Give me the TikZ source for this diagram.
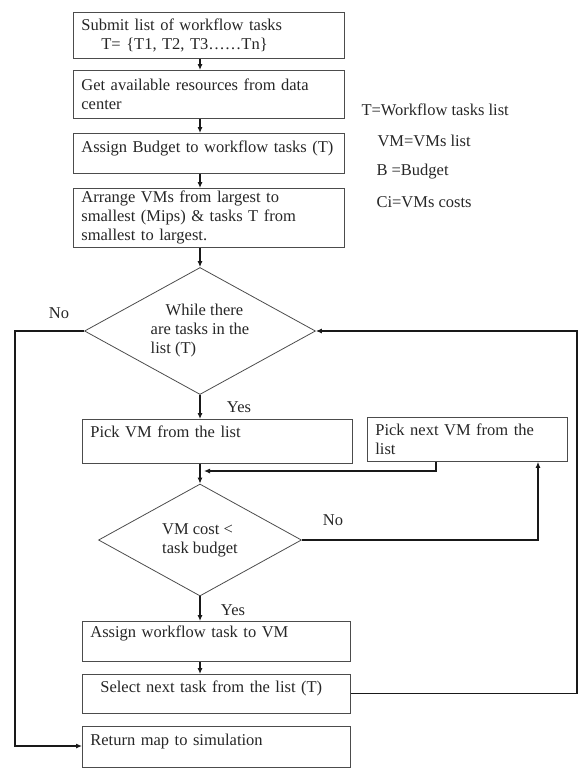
\documentclass[tikz,border=0pt]{standalone}
\usepackage{fontspec}
\setmainfont{Liberation Serif}
\usetikzlibrary{arrows.meta,calc,shapes.geometric}
\tikzset{
  procbox/.style 2 args={draw=black!70, line width=0.8pt, anchor=north west, inner xsep=8pt, inner ysep=0pt, align=left, text width=#1pt, minimum height=#2pt},
  liftup/.style={text depth=#1pt},
  decision/.style={draw=black!70, line width=0.8pt, diamond, inner sep=0pt, align=left},
  flow/.style={line width=1.1pt, draw=black!90, -{Latex[length=6pt,width=5pt]}}
}

\begin{document}
\begin{tikzpicture}[x=1pt, y=-1pt, font=\fontsize{16.5}{19}\selectfont, text=black!85]
			%%%%% START %%%%%
			\useasboundingbox (0,0) rectangle (581,769);
			
			\node[procbox={255}{46}] (submit) at (73,12) {Submit list of workflow tasks\\\hspace*{20pt}T= \{T1, T2, T3\ldots\ldots Tn\}};
			\node[procbox={255}{48}] (resources) at (73,70) {Get available resources from data\\center};
			\node[procbox={255}{40}, liftup=14] (budget) at (73,133) {Assign Budget to workflow tasks (T)};
			\node[procbox={255}{59}] (arrange) at (73,188) {Arrange VMs from largest to\\smallest (Mips) \& tasks T from\\smallest to largest.};
			
			\node[decision, aspect=1.82, minimum width=231pt, minimum height=127pt] (whiletasks) at (200,331) {\hspace*{15pt}While there\\are tasks in the\\list (T)};
			
			\node[procbox={254}{44}, liftup=20] (pickvm) at (82,419) {Pick VM from the list};
			\node[procbox={184}{44}] (nextvm) at (367,417) {Pick next VM from the\\list};
			
			\node[decision, aspect=1.81, minimum width=203pt, minimum height=112pt] (vmcost) at (200,540) {VM cost <\\task budget};
			
			\node[procbox={252}{40}, liftup=20] (assign) at (82,621) {Assign workflow task to VM};
			\node[procbox={252}{39}, liftup=14] (selectnext) at (82,674) {\hspace*{10pt}Select next task from the list (T)};
			\node[procbox={252}{41}, liftup=14] (return) at (82,726) {Return map to simulation};
			
			% legend
			\node[anchor=west] (legT) at (358,110) {T=Workflow tasks list};
			\node[anchor=west] (legVM) at (374,141) {VM=VMs list};
			\node[anchor=west] (legB) at (373,172) {B =Budget};
			\node[anchor=west] (legC) at (373,202) {Ci=VMs costs};
			
			% labels
			\node (no1) at (59,313) {No};
			\node (yes1) at (239,407) {Yes};
			\node (no2) at (333,520) {No};
			\node (yes2) at (233,610) {Yes};
			
			\coordinate (join) at (204,471);
			\coordinate (rloop) at (577,331);
			\coordinate (lloop) at (15,746);
			
			% main column
			\draw[flow] (submit.south -| whiletasks.north) -- (resources.north -| whiletasks.north);
			\draw[flow] (resources.south -| whiletasks.north) -- (budget.north -| whiletasks.north);
			\draw[flow] (budget.south -| whiletasks.north) -- (arrange.north -| whiletasks.north);
			\draw[flow] (arrange.south -| whiletasks.north) -- (whiletasks.north);
			\draw[flow] (whiletasks.south) -- (pickvm.north -| whiletasks.south);
			\draw[flow] (pickvm.south -| vmcost.north) -- (vmcost.north);
			\draw[flow] (vmcost.south) -- (assign.north -| vmcost.south);
			\draw[flow] (assign.south -| vmcost.south) -- (selectnext.north -| vmcost.south);
			
			% loops
			\draw[flow] ($(nextvm.south west)+(69,0)$) |- (join);
			\draw[flow] (vmcost.east) -| ($(nextvm.south west)+(171,0)$);
			\draw[flow] (selectnext.east) -- (selectnext.east -| rloop) -- (rloop) -- (whiletasks.east);
			\draw[flow] (whiletasks.west) -| (lloop) -- (lloop -| return.west);
			%%%%% END %%%%%
\end{tikzpicture}
\end{document}
